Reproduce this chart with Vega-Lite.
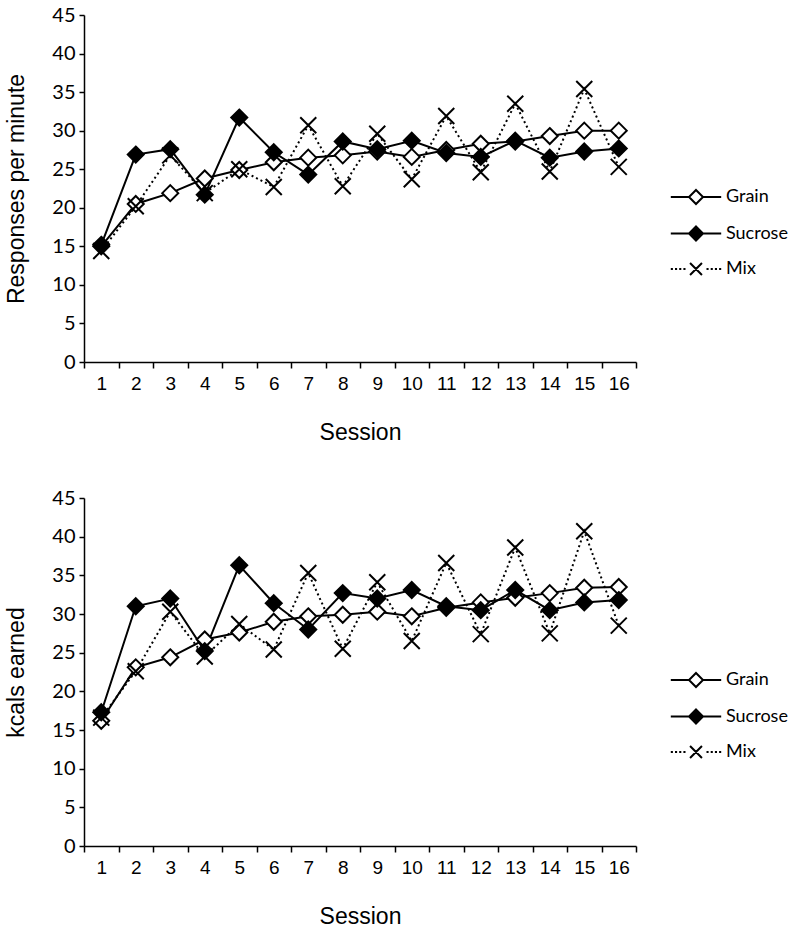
{
  "$schema": "https://vega.github.io/schema/vega-lite/v6.json",
  "background": "white",
  "padding": 5,
  "spacing": 44,
  "config": {
    "view": {"stroke": null},
    "axis": {"domainColor": "black", "domainWidth": 1.5, "tickColor": "black", "tickWidth": 1.5, "labelColor": "black", "titleColor": "black", "grid": false}
  },
  "datasets": {
    "responses": [
      {"session": 1, "series": "Grain", "value": 15.0}, {"session": 2, "series": "Grain", "value": 20.5}, {"session": 3, "series": "Grain", "value": 21.9}, {"session": 4, "series": "Grain", "value": 23.8},
      {"session": 5, "series": "Grain", "value": 24.9}, {"session": 6, "series": "Grain", "value": 25.9}, {"session": 7, "series": "Grain", "value": 26.5}, {"session": 8, "series": "Grain", "value": 26.8},
      {"session": 9, "series": "Grain", "value": 27.3}, {"session": 10, "series": "Grain", "value": 26.6}, {"session": 11, "series": "Grain", "value": 27.5}, {"session": 12, "series": "Grain", "value": 28.3},
      {"session": 13, "series": "Grain", "value": 28.6}, {"session": 14, "series": "Grain", "value": 29.3}, {"session": 15, "series": "Grain", "value": 30.0}, {"session": 16, "series": "Grain", "value": 30.0},
      {"session": 1, "series": "Mix", "value": 14.4}, {"session": 2, "series": "Mix", "value": 20.2}, {"session": 3, "series": "Mix", "value": 26.8}, {"session": 4, "series": "Mix", "value": 21.9},
      {"session": 5, "series": "Mix", "value": 25.0}, {"session": 6, "series": "Mix", "value": 22.7}, {"session": 7, "series": "Mix", "value": 30.7}, {"session": 8, "series": "Mix", "value": 22.8},
      {"session": 9, "series": "Mix", "value": 29.6}, {"session": 10, "series": "Mix", "value": 23.7}, {"session": 11, "series": "Mix", "value": 31.9}, {"session": 12, "series": "Mix", "value": 24.6},
      {"session": 13, "series": "Mix", "value": 33.5}, {"session": 14, "series": "Mix", "value": 24.7}, {"session": 15, "series": "Mix", "value": 35.4}, {"session": 16, "series": "Mix", "value": 25.3},
      {"session": 1, "series": "Sucrose", "value": 15.2}, {"session": 2, "series": "Sucrose", "value": 26.9}, {"session": 3, "series": "Sucrose", "value": 27.6}, {"session": 4, "series": "Sucrose", "value": 21.7},
      {"session": 5, "series": "Sucrose", "value": 31.7}, {"session": 6, "series": "Sucrose", "value": 27.2}, {"session": 7, "series": "Sucrose", "value": 24.3}, {"session": 8, "series": "Sucrose", "value": 28.6},
      {"session": 9, "series": "Sucrose", "value": 27.6}, {"session": 10, "series": "Sucrose", "value": 28.7}, {"session": 11, "series": "Sucrose", "value": 27.1}, {"session": 12, "series": "Sucrose", "value": 26.6},
      {"session": 13, "series": "Sucrose", "value": 28.7}, {"session": 14, "series": "Sucrose", "value": 26.5}, {"session": 15, "series": "Sucrose", "value": 27.3}, {"session": 16, "series": "Sucrose", "value": 27.7}
    ],
    "kcals": [
      {"session": 1, "series": "Grain", "value": 16.2}, {"session": 2, "series": "Grain", "value": 23.1}, {"session": 3, "series": "Grain", "value": 24.4}, {"session": 4, "series": "Grain", "value": 26.7},
      {"session": 5, "series": "Grain", "value": 27.6}, {"session": 6, "series": "Grain", "value": 29.0}, {"session": 7, "series": "Grain", "value": 29.7}, {"session": 8, "series": "Grain", "value": 29.9},
      {"session": 9, "series": "Grain", "value": 30.3}, {"session": 10, "series": "Grain", "value": 29.7}, {"session": 11, "series": "Grain", "value": 30.8}, {"session": 12, "series": "Grain", "value": 31.5},
      {"session": 13, "series": "Grain", "value": 32.1}, {"session": 14, "series": "Grain", "value": 32.7}, {"session": 15, "series": "Grain", "value": 33.4}, {"session": 16, "series": "Grain", "value": 33.5},
      {"session": 1, "series": "Mix", "value": 16.6}, {"session": 2, "series": "Mix", "value": 22.6}, {"session": 3, "series": "Mix", "value": 30.3}, {"session": 4, "series": "Mix", "value": 24.5},
      {"session": 5, "series": "Mix", "value": 28.7}, {"session": 6, "series": "Mix", "value": 25.4}, {"session": 7, "series": "Mix", "value": 35.3}, {"session": 8, "series": "Mix", "value": 25.5},
      {"session": 9, "series": "Mix", "value": 34.1}, {"session": 10, "series": "Mix", "value": 26.5}, {"session": 11, "series": "Mix", "value": 36.6}, {"session": 12, "series": "Mix", "value": 27.4},
      {"session": 13, "series": "Mix", "value": 38.6}, {"session": 14, "series": "Mix", "value": 27.5}, {"session": 15, "series": "Mix", "value": 40.7}, {"session": 16, "series": "Mix", "value": 28.5},
      {"session": 1, "series": "Sucrose", "value": 17.3}, {"session": 2, "series": "Sucrose", "value": 31.0}, {"session": 3, "series": "Sucrose", "value": 32.0}, {"session": 4, "series": "Sucrose", "value": 25.2},
      {"session": 5, "series": "Sucrose", "value": 36.3}, {"session": 6, "series": "Sucrose", "value": 31.4}, {"session": 7, "series": "Sucrose", "value": 28.0}, {"session": 8, "series": "Sucrose", "value": 32.7},
      {"session": 9, "series": "Sucrose", "value": 32.0}, {"session": 10, "series": "Sucrose", "value": 33.1}, {"session": 11, "series": "Sucrose", "value": 31.0}, {"session": 12, "series": "Sucrose", "value": 30.5},
      {"session": 13, "series": "Sucrose", "value": 33.1}, {"session": 14, "series": "Sucrose", "value": 30.5}, {"session": 15, "series": "Sucrose", "value": 31.5}, {"session": 16, "series": "Sucrose", "value": 31.8}
    ]
  },
  "resolve": {"scale": {"shape": "independent", "fill": "independent"}},
  "vconcat": [
    {
      "width": 552,
      "height": 347,
      "data": {"name": "responses"},
      "resolve": {"scale": {"shape": "independent", "fill": "independent"}},
      "encoding": {
        "x": {"field": "session", "type": "ordinal", "scale": {"type": "band", "paddingInner": 0, "paddingOuter": 0},
          "axis": {"title": "Session", "tickBand": "extent", "labelAngle": 0, "labelFont": "Liberation Sans", "labelFontSize": 19, "labelPadding": 6, "tickSize": 6, "titleFont": "Liberation Sans", "titleFontSize": 23, "titleFontWeight": "normal", "titlePadding": 28}},
        "y": {"field": "value", "type": "quantitative", "scale": {"domain": [0, 45]},
          "axis": {"title": "Responses per minute", "values": [0, 5, 10, 15, 20, 25, 30, 35, 40, 45], "labelFont": "Lato", "labelFontSize": 20, "labelPadding": 4, "tickSize": 5, "titleFont": "Liberation Sans", "titleFontSize": 23, "titleFontWeight": "normal", "titlePadding": 23}}
      },
      "layer": [
        {
          "transform": [{"filter": "datum.series !== 'Mix'"}],
          "mark": {"type": "line", "stroke": "black", "strokeWidth": 2},
          "encoding": {"detail": {"field": "series"}}
        },
        {
          "transform": [{"filter": "datum.series === 'Mix'"}],
          "mark": {"type": "line", "stroke": "black", "strokeWidth": 2, "strokeDash": [2, 3]},
          "encoding": {}
        },
        {
          "mark": {"type": "point", "stroke": "black", "strokeWidth": 2, "opacity": 1, "size": 256},
          "encoding": {
            "shape": {"field": "series", "type": "nominal", "legend": null, "scale": {"domain": ["Grain", "Sucrose", "Mix"], "range": ["M0,-1L1,0L0,1L-1,0Z", "M0,-1L1,0L0,1L-1,0Z", "M-1,-1L1,1M-1,1L1,-1"]}},
            "fill": {"field": "series", "type": "nominal", "legend": null, "scale": {"domain": ["Grain", "Sucrose", "Mix"], "range": ["white", "black", "white"]}}
          }
        },
        {
          "mark": {"type": "point", "stroke": "black", "strokeWidth": 2, "opacity": 0, "size": 196},
          "encoding": {
            "shape": {"field": "series", "type": "nominal",
              "scale": {"domain": ["Grain", "Sucrose", "Mix"], "range": ["M-3.6,0H-1M0,-1L1,0L0,1L-1,0ZM1,0H3.6", "M-3.6,0H-1M0,-1L1,0L0,1L-1,0ZM1,0H3.6", "M-3.6,0H-3.3M-3,0H-2.7M-2.4,0H-2.1M-1.8,0H-1.5M-0.85,-0.85L0.85,0.85M-0.85,0.85L0.85,-0.85M1.5,0H1.8M2.1,0H2.4M2.7,0H3M3.3,0H3.6"]},
              "legend": {"orient": "none", "legendX": 603, "legendY": 173, "title": null, "symbolSize": 196, "symbolStrokeWidth": 2, "symbolOpacity": 1, "labelFont": "Lato", "labelFontSize": 18, "labelColor": "black", "labelOffset": 21, "rowPadding": 14.5, "padding": 0}},
            "fill": {"field": "series", "type": "nominal", "scale": {"domain": ["Grain", "Sucrose", "Mix"], "range": ["white", "black", "white"]}}
          }
        }
      ]
    },
    {
      "width": 552,
      "height": 348,
      "data": {"name": "kcals"},
      "resolve": {"scale": {"shape": "independent", "fill": "independent"}},
      "encoding": {
        "x": {"field": "session", "type": "ordinal", "scale": {"type": "band", "paddingInner": 0, "paddingOuter": 0},
          "axis": {"title": "Session", "tickBand": "extent", "labelAngle": 0, "labelFont": "Liberation Sans", "labelFontSize": 19, "labelPadding": 6, "tickSize": 6, "titleFont": "Liberation Sans", "titleFontSize": 23, "titleFontWeight": "normal", "titlePadding": 28}},
        "y": {"field": "value", "type": "quantitative", "scale": {"domain": [0, 45]},
          "axis": {"title": "kcals earned", "values": [0, 5, 10, 15, 20, 25, 30, 35, 40, 45], "labelFont": "Lato", "labelFontSize": 20, "labelPadding": 4, "tickSize": 5, "titleFont": "Liberation Sans", "titleFontSize": 23, "titleFontWeight": "normal", "titlePadding": 23}}
      },
      "layer": [
        {
          "transform": [{"filter": "datum.series !== 'Mix'"}],
          "mark": {"type": "line", "stroke": "black", "strokeWidth": 2},
          "encoding": {"detail": {"field": "series"}}
        },
        {
          "transform": [{"filter": "datum.series === 'Mix'"}],
          "mark": {"type": "line", "stroke": "black", "strokeWidth": 2, "strokeDash": [2, 3]},
          "encoding": {}
        },
        {
          "mark": {"type": "point", "stroke": "black", "strokeWidth": 2, "opacity": 1, "size": 256},
          "encoding": {
            "shape": {"field": "series", "type": "nominal", "legend": null, "scale": {"domain": ["Grain", "Sucrose", "Mix"], "range": ["M0,-1L1,0L0,1L-1,0Z", "M0,-1L1,0L0,1L-1,0Z", "M-1,-1L1,1M-1,1L1,-1"]}},
            "fill": {"field": "series", "type": "nominal", "legend": null, "scale": {"domain": ["Grain", "Sucrose", "Mix"], "range": ["white", "black", "white"]}}
          }
        },
        {
          "mark": {"type": "point", "stroke": "black", "strokeWidth": 2, "opacity": 0, "size": 196},
          "encoding": {
            "shape": {"field": "series", "type": "nominal",
              "scale": {"domain": ["Grain", "Sucrose", "Mix"], "range": ["M-3.6,0H-1M0,-1L1,0L0,1L-1,0ZM1,0H3.6", "M-3.6,0H-1M0,-1L1,0L0,1L-1,0ZM1,0H3.6", "M-3.6,0H-3.3M-3,0H-2.7M-2.4,0H-2.1M-1.8,0H-1.5M-0.85,-0.85L0.85,0.85M-0.85,0.85L0.85,-0.85M1.5,0H1.8M2.1,0H2.4M2.7,0H3M3.3,0H3.6"]},
              "legend": {"orient": "none", "legendX": 603, "legendY": 173, "title": null, "symbolSize": 196, "symbolStrokeWidth": 2, "symbolOpacity": 1, "labelFont": "Lato", "labelFontSize": 18, "labelColor": "black", "labelOffset": 21, "rowPadding": 14.5, "padding": 0}},
            "fill": {"field": "series", "type": "nominal", "scale": {"domain": ["Grain", "Sucrose", "Mix"], "range": ["white", "black", "white"]}}
          }
        }
      ]
    }
  ]
}
